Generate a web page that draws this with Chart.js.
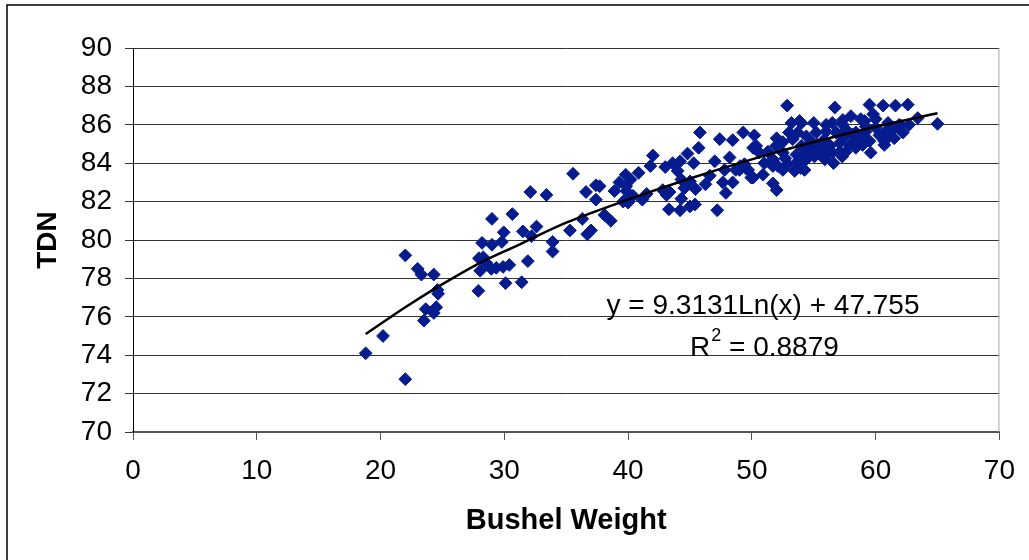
<!DOCTYPE html>
<html>
<head>
<meta charset="utf-8">
<script src="https://cdn.jsdelivr.net/npm/chart.js@4.4.1/dist/chart.umd.min.js"></script>
<style>
    body { margin: 0; background: #fff; }
    canvas { display: block; }
</style>
</head>
<body>
<canvas id="tdnChart" width="1029" height="560"></canvas>
<script>
// Bushel weight vs TDN

const bushelWeight = [
    18.8, 20.2, 22.0, 22.0, 23.0, 23.3, 24.3, 24.6, 24.65, 23.65, 24.5, 24.3, 23.5,
    27.9, 28.2, 29.0, 29.8, 29.95, 27.95, 28.3, 28.55, 28.05, 28.95, 29.35, 29.9, 30.4,
    30.1, 31.4, 31.9, 31.5, 32.2, 32.6, 33.9, 33.9, 29.0, 30.65, 35.3, 36.3, 37.0, 36.7,
    38.1, 38.6, 37.4, 39.6, 35.55, 32.1, 33.4, 36.6, 37.4, 39.3, 39.8, 40.2, 40.85, 41.8,
    39.85, 40.4, 41.15, 40.0, 37.7, 39.85,
    45.8, 47.4, 48.45, 49.3, 42.0, 45.7, 44.8, 45.3, 44.2, 43.6, 44.0, 44.3, 47.0, 47.8,
    48.2, 49.05, 49.7, 47.65, 48.45, 47.9, 46.25, 45.45, 44.55, 42.8, 43.35, 44.3, 45.0,
    45.4, 44.2, 43.3, 47.2, 43.1, 45.0, 50.2, 50.35, 52.0, 48.7, 49.5, 50.1, 50.9, 51.7,
    51.7, 52.0,
    52.85, 56.7, 53.2, 54.0, 55.0, 56.0, 56.5, 57.35, 58.0, 58.8, 50.1, 50.6, 51.95, 52.5,
    53.0, 53.7, 54.4, 55.2, 56.0, 56.8, 57.6, 58.4, 59.2, 54.9, 54.4, 55.5, 56.3, 57.1,
    57.9, 58.55, 59.1, 52.5, 51.7, 51.0, 52.1, 52.9, 53.7, 54.4, 55.05, 55.7, 56.5, 57.6,
    53.45, 54.25, 52.5, 49.4, 49.95, 49.0, 56.6, 57.3, 53.85, 57.35, 59.1, 60.0, 61.0,
    61.9, 62.7, 63.4, 59.5, 60.6, 61.6, 62.6, 59.2, 60.0, 60.8, 61.5, 58.15, 58.7, 59.5,
    58.95, 58.4, 56.1, 55.5, 54.9, 54.25, 53.95, 60.8, 61.5, 60.7, 59.6, 65.0, 59.8,
    62.05, 61.4, 60.7, 57.1,
    53.3, 55.8, 57.4, 54.0, 56.2, 58.9, 53.6, 55.3, 60.3, 52.7, 51.3, 55.9, 58.2, 62.2,
    46.6, 43.0, 41.5, 38.9
];

const tdn = [
    74.1, 75.0, 72.75, 79.2, 78.5, 78.2, 78.2, 77.4, 77.2, 76.4, 76.5, 76.2, 75.8,
    77.35, 79.85, 79.75, 79.9, 80.4, 79.05, 79.1, 78.8, 78.4, 78.5, 78.55, 78.6, 78.7,
    77.75, 77.8, 78.9, 80.45, 80.2, 80.7, 79.9, 79.4, 81.1, 81.35, 80.5, 81.1, 80.5, 80.3,
    81.3, 81.0, 82.1, 82.0, 83.45, 82.5, 82.35, 82.5, 82.85, 83.0, 83.4, 83.15, 83.5, 83.85,
    82.55, 82.3, 82.1, 81.95, 82.8, 82.8,
    85.6, 85.25, 85.2, 85.6, 84.4, 84.8, 84.5, 84.0, 84.1, 84.0, 83.6, 83.15, 84.1, 83.65,
    84.3, 83.85, 83.65, 83.0, 83.0, 82.45, 82.9, 82.65, 82.7, 82.6, 82.5, 82.15, 81.75,
    81.85, 81.55, 81.6, 81.55, 82.35, 83.05, 85.45, 84.9, 85.3, 83.65, 83.75, 83.25, 83.4, 83.85,
    82.95, 82.6,
    87.0, 86.9, 86.1, 86.1, 86.1, 86.0, 86.1, 86.25, 86.45, 86.3, 84.8, 84.55, 84.9, 85.1,
    85.6, 85.6, 85.4, 85.6, 85.65, 85.6, 85.75, 85.6, 85.9, 85.05, 84.8, 84.8, 84.9, 85.05,
    84.95, 85.25, 85.05, 84.55, 84.2, 84.0, 83.85, 83.95, 84.1, 84.2, 84.35, 84.45, 84.55, 84.6,
    83.6, 83.65, 83.65, 83.95, 83.25, 83.65, 84.0, 84.35, 86.2, 86.0, 86.2, 86.3, 86.1,
    86.0, 86.0, 86.35, 87.05, 87.0, 87.0, 87.05, 85.65, 85.85, 85.65, 85.85, 85.5, 85.3, 85.15,
    84.95, 84.8, 84.55, 84.45, 84.6, 84.45, 83.75, 85.5, 85.3, 84.95, 84.55, 86.05, 86.55,
    85.95, 85.75, 85.15, 84.6,
    85.25, 85.2, 85.35, 84.9, 85.0, 85.45, 84.45, 84.95, 85.45, 84.25, 84.6, 84.2, 85.1, 85.6,
    83.35, 83.8, 82.4, 82.55
];

// trend line
const trendX = [18.8, 22, 25, 28, 31, 35, 40, 45, 50, 55, 60, 65];
const trendY = [75.1, 76.5, 77.7, 78.8, 79.7, 80.9, 82.1, 83.2, 84.2, 85.1, 85.9, 86.6];

const xTicks = [0, 10, 20, 30, 40, 50, 60, 70];
const yTicks = [70, 72, 74, 76, 78, 80, 82, 84, 86, 88, 90];

const equationText = 'y = 9.3131Ln(x) + 47.755';
const r2Value      = '0.8879';

const FONT = 'Arial, "Liberation Sans", sans-serif';

// border round the whole chart, right edge of the plot, equation text
const extrasPlugin = {
    id: 'extras',
    beforeDraw(chart) {
        const c = chart.ctx;
        c.save();
        c.strokeStyle = '#000';
        c.lineWidth = 1.5;
        c.beginPath();
        c.moveTo(7, 600);
        c.lineTo(7, 5);
        c.lineTo(1100, 5);
        c.stroke();
        c.restore();
    },
    afterDraw(chart) {
        const c  = chart.ctx;
        const a  = chart.chartArea;
        c.save();
        c.strokeStyle = '#a6a6a6';
        c.lineWidth = 1;
        c.beginPath();
        c.moveTo(a.right - 0.5, a.top);
        c.lineTo(a.right - 0.5, a.bottom);
        c.stroke();

        c.fillStyle = '#000';
        c.textBaseline = 'middle';
        c.font = `28px ${FONT}`;
        c.textAlign = 'center';
        c.fillText(equationText, 763, 306);

        // R² with a raised 2
        const left = 690;
        c.textAlign = 'left';
        c.fillText('R', left, 348);
        const rw = c.measureText('R').width;
        c.font = `18px ${FONT}`;
        c.fillText('2', left + rw + 1, 336);
        const sw = c.measureText('2').width;
        c.font = `28px ${FONT}`;
        c.fillText(' = ' + r2Value, left + rw + sw + 1, 348);
        c.restore();
    }
};

const scatterPoints = bushelWeight.map((x, i) => ({ x, y: tdn[i] }));
const trendPoints   = trendX.map((x, i) => ({ x, y: trendY[i] }));

new Chart(document.getElementById('tdnChart').getContext('2d'), {
    type: 'scatter',
    data: {
        datasets: [
            {
                label: 'Trend',
                data: trendPoints,
                showLine: true,
                borderColor: '#000',
                borderWidth: 2.5,
                pointRadius: 0,
                cubicInterpolationMode: 'monotone',
                order: 0,
            },
            {
                label: 'TDN',
                data: scatterPoints,
                pointStyle: 'rectRot',
                pointRadius: 6.4,
                backgroundColor: '#061b8e',
                borderColor: '#061b8e',
                borderWidth: 1,
                order: 1,
            }
        ]
    },
    options: {
        responsive: false,
        animation: false,
        events: [],
        layout: { padding: { top: 48, right: 29, left: 0, bottom: 0 } },
        plugins: { legend: { display: false }, tooltip: { enabled: false } },
        scales: {
            x: {
                type: 'linear',
                min: xTicks[0],
                max: xTicks[xTicks.length - 1],
                afterBuildTicks: s => { s.ticks = xTicks.map(v => ({ value: v })); },
                afterFit: s => { s.height = 128; },
                grid: {
                    drawOnChartArea: false,
                    tickLength: 8,
                    tickColor: '#555',
                },
                border: { color: '#555', width: 2 },
                ticks: { color: '#000', font: { family: FONT, size: 28 }, padding: 14, maxRotation: 0 },
                title: {
                    display: true,
                    text: 'Bushel Weight',
                    color: '#000',
                    font: { family: FONT, size: 29, weight: 'bold' },
                    padding: { top: 0, bottom: 22 },
                },
            },
            y: {
                type: 'linear',
                min: yTicks[0],
                max: yTicks[yTicks.length - 1],
                afterBuildTicks: s => { s.ticks = yTicks.map(v => ({ value: v })); },
                afterFit: s => { s.width = 133; },
                grid: {
                    color: '#333',
                    tickLength: 8,
                },
                border: { color: '#000', width: 1 },
                ticks: { color: '#000', font: { family: FONT, size: 28 }, padding: 13 },
                title: {
                    display: true,
                    text: 'TDN',
                    color: '#000',
                    font: { family: FONT, size: 28, weight: 'bold' },
                    padding: { top: 31, bottom: 0 },
                },
            }
        }
    },
    plugins: [extrasPlugin]
});
</script>
</body>
</html>
